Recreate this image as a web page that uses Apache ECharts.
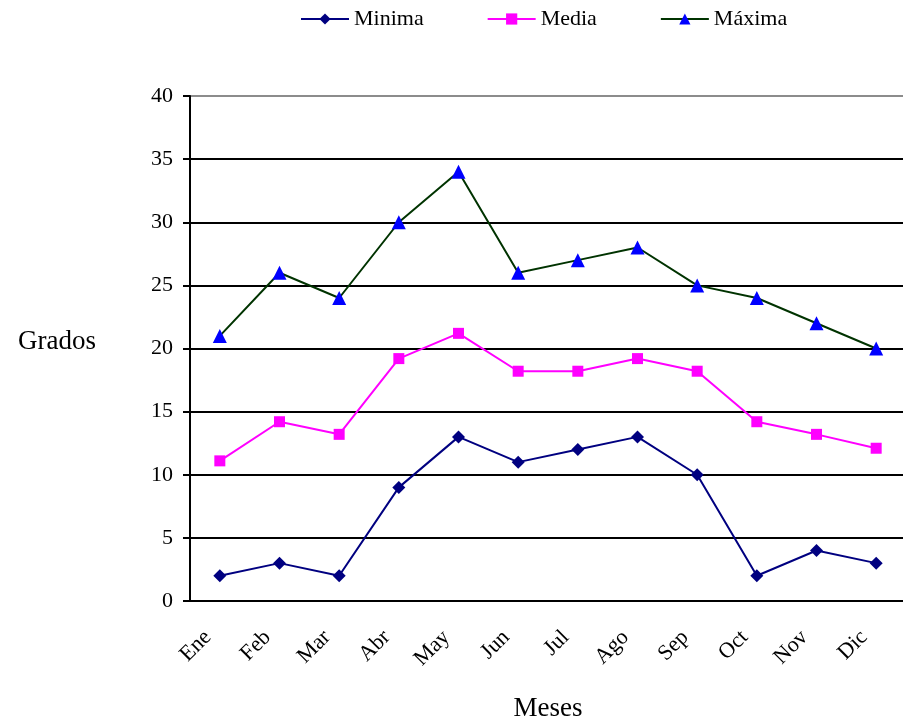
<!DOCTYPE html>
<html>
<head>
<meta charset="utf-8">
<script src="https://cdn.jsdelivr.net/npm/echarts@6/dist/echarts.min.js"></script>
<style>
  html, body { margin: 0; padding: 0; background: #fff; }
  #chart { width: 903px; height: 719px; }
</style>
</head>
<body>
<div id="chart"></div>
<script>
const meses = ['Ene', 'Feb', 'Mar', 'Abr', 'May', 'Jun', 'Jul', 'Ago', 'Sep', 'Oct', 'Nov', 'Dic'];
const minima = [2, 3, 2, 9, 13, 11, 12, 13, 10, 2, 4, 3];
const media = [11.1, 14.2, 13.2, 19.2, 21.2, 18.2, 18.2, 19.2, 18.2, 14.2, 13.2, 12.1];
const maxima = [21, 26, 24, 30, 34, 26, 27, 28, 25, 24, 22, 20];

const font = 'Liberation Serif, Times New Roman, serif';

const chart = echarts.init(document.getElementById('chart'));

// rejilla negra, la de arriba gris como el borde del area de trazado
const gridColors = ['#000', '#000', '#000', '#000', '#000', '#000', '#000', '#000', '#8c8c8c'];

const option = {
  animation: false,
  backgroundColor: '#fff',
  textStyle: { fontFamily: font, color: '#000' },
  legend: {
    top: 3,
    left: 295,
    itemWidth: 48,
    itemHeight: 14,
    itemGap: 63,
    textStyle: { fontFamily: font, fontSize: 22, color: '#000' },
    data: ['Minima', 'Media', 'Máxima']
  },
  grid: { left: 190, right: -3, top: 96, bottom: 118, outerBoundsMode: 'none' },
  xAxis: {
    type: 'category',
    data: meses,
    boundaryGap: true,
    name: 'Meses',
    nameLocation: 'middle',
    nameGap: 94,
    nameTextStyle: { fontFamily: font, fontSize: 27, color: '#000' },
    axisLine: { lineStyle: { color: '#000', width: 2 } },
    axisTick: { alignWithLabel: false, length: 8, lineStyle: { color: '#000', width: 2 } },
    axisLabel: { rotate: 45, margin: 21, padding: [0, 17, 0, 0], fontFamily: font, fontSize: 22, color: '#000' },
    splitLine: { show: false }
  },
  yAxis: {
    type: 'value',
    min: 0,
    max: 40,
    interval: 5,
    name: 'Grados',
    nameLocation: 'middle',
    nameRotate: 0,
    nameGap: 94,
    nameTextStyle: { fontFamily: font, fontSize: 27, color: '#000', verticalAlign: 'bottom', lineHeight: 14 },
    axisLine: { show: true, lineStyle: { color: '#000', width: 2 } },
    axisTick: { show: true, length: 7, lineStyle: { color: '#000', width: 2 } },
    axisLabel: { margin: 17, fontFamily: font, fontSize: 22, color: '#000' },
    splitLine: { lineStyle: { color: gridColors, width: 2 } }
  },
  series: [
    {
      name: 'Minima',
      type: 'line',
      data: minima,
      symbol: 'diamond',
      symbolSize: 13,
      lineStyle: { color: '#000080', width: 2 },
      itemStyle: { color: '#000080' }
    },
    {
      name: 'Media',
      type: 'line',
      data: media,
      symbol: 'rect',
      symbolSize: 11,
      lineStyle: { color: '#FF00FF', width: 2 },
      itemStyle: { color: '#FF00FF' }
    },
    {
      name: 'Máxima',
      type: 'line',
      data: maxima,
      symbol: 'triangle',
      symbolSize: 14,
      lineStyle: { color: '#003300', width: 2 },
      itemStyle: { color: '#0000FF' }
    }
  ]
};

chart.setOption(option);
</script>
</body>
</html>
